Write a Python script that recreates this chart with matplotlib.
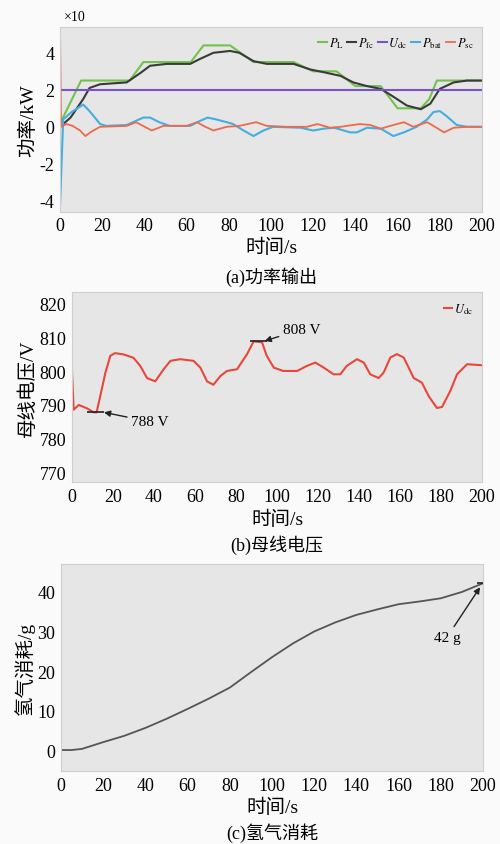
import matplotlib
matplotlib.use('Agg')
import matplotlib.pyplot as plt

plt.rcParams['font.family'] = ['Liberation Serif', 'Noto Sans CJK SC']
plt.rcParams['mathtext.fontset'] = 'stix'
plt.rcParams['axes.unicode_minus'] = False

# (a) power output, units of x10 kW
t_load = [0, 1, 10, 33, 39.5, 62, 68, 80.6, 91.7, 110.7, 120, 131, 140, 152, 160, 171, 175, 178.6, 200]
p_load = [0.2, 0.4, 2.5, 2.5, 3.5, 3.5, 4.4, 4.4, 3.5, 3.5, 3.0, 3.0, 2.2, 2.2, 1.0, 1.0, 1.5, 2.5, 2.5]

t_fc = [0, 5, 11, 14, 19, 31.6, 38, 42.7, 50.6, 61.7, 66, 72.7, 80.6, 85, 91.7, 98, 110.7, 118.6, 125,
        133, 139, 145.5, 152, 157, 164.4, 171, 175.5, 180, 186.6, 193, 200]
p_fc = [0, 0.5, 1.5, 2.1, 2.3, 2.4, 2.9, 3.3, 3.4, 3.4, 3.65, 4.0, 4.1, 4.0, 3.55, 3.4, 3.4, 3.1, 2.95,
        2.75, 2.4, 2.2, 2.05, 1.7, 1.15, 0.95, 1.25, 2.05, 2.4, 2.5, 2.5]

t_udc_ref = [0, 200]
u_dc_ref = [2.0, 2.0]

t_bat = [0, 1.5, 5.5, 11, 14, 19, 22, 31.6, 39.5, 42.7, 47, 52, 61.7, 66, 70, 74, 79, 82, 87, 91.7, 96.4,
         101, 114, 120, 125, 130, 137.5, 140.7, 145.5, 152, 158, 163, 169, 174, 177, 180, 183, 188, 193, 200]
p_bat = [-4.3, 0.4, 0.8, 1.2, 0.85, 0.15, 0.05, 0.1, 0.5, 0.5, 0.25, 0.05, 0.05, 0.3, 0.5, 0.4, 0.25, 0.15,
         -0.2, -0.5, -0.2, 0, -0.05, -0.2, -0.1, -0.05, -0.3, -0.3, -0.05, -0.1, -0.5, -0.3, 0, 0.4, 0.8,
         0.85, 0.6, 0.1, 0, 0]

t_sc = [0, 0.5, 3, 6, 9.5, 12, 15, 19, 31.6, 36, 41, 43.5, 49, 60, 65, 68, 72.7, 79, 85, 93, 98, 107.5,
        117, 122, 128, 133, 142, 147, 152, 156.5, 163, 167.5, 174, 177, 182, 186.6, 193, 200]
p_sc = [5.4, 0, 0.15, 0.05, -0.2, -0.5, -0.25, 0, 0.05, 0.25, -0.05, -0.2, 0.05, 0.05, 0.25, 0.05, -0.2,
        0, 0.05, 0.25, 0.05, 0, 0, 0.15, -0.05, 0, 0.15, 0.1, -0.1, 0.05, 0.25, 0, 0.25, 0.05, -0.3, -0.05, 0, 0]

# (b) bus voltage
t_bus = [0, 0.8, 3.3, 7.3, 10.6, 12, 13.8, 16.3, 18.7, 21, 25.2, 30, 33.3, 36.6, 40.6, 44.7, 48, 52.8, 59.3,
         62.6, 65.9, 69, 72.4, 75.6, 80.5, 85.4, 88.6, 92.7, 95, 98.4, 103, 109.8, 114.6, 118.7, 122.8, 127.6,
         130.9, 134, 139, 142.3, 145.5, 149.6, 152, 155.3, 158.5, 161.8, 166.7, 170.7, 174, 178, 180.5, 184.5,
         187.8, 192.7, 200]
u_bus = [800, 788.6, 790, 789, 787.8, 787.8, 792.7, 799.6, 804.6, 805.4, 805, 804, 801.6, 798, 797, 800.6,
         803.1, 803.6, 803.1, 801.1, 797, 796, 798.6, 800.1, 800.6, 805.1, 808.9, 808.6, 804.6, 801.1, 800.1,
         800.1, 801.6, 802.6, 801.1, 799.1, 799.1, 801.6, 803.6, 802.6, 799.1, 798, 799.6, 804.1, 805.1, 804.1,
         798, 796.6, 792.6, 789.1, 789.4, 794.1, 799.1, 802.1, 801.8]

# (c) hydrogen consumption
t_h2 = [0, 5, 10, 20, 30, 40, 50, 60, 70, 80, 90, 100, 110, 120, 130, 140, 150, 160, 170, 180, 190, 200]
m_h2 = [0, 0, 0.3, 2.0, 3.6, 5.6, 7.9, 10.4, 13.0, 15.8, 19.7, 23.5, 27.0, 30.0, 32.3, 34.2, 35.6, 36.9,
        37.6, 38.4, 40.0, 42.2]

xticks = list(range(0, 201, 20))

axbg = '#e6e6e6'
edge = '#cfcfcf'

fig = plt.figure(figsize=(5, 8.45), dpi=100)
fig.patch.set_facecolor('#fafafa')


def style(ax):
    ax.set_facecolor(axbg)
    for s in ax.spines.values():
        s.set_color(edge)
    ax.set_xlim(0, 200)
    ax.set_xticks(xticks)
    ax.tick_params(length=0, pad=4, labelsize=13)


arrow = dict(arrowstyle='-|>', color='#222222', lw=1, shrinkA=1, shrinkB=0, mutation_scale=9)

# ---- (a)
ax1 = fig.add_axes([0.12, 0.748, 0.844, 0.219])
style(ax1)
ax1.plot(t_load, p_load, color='#72c24c', lw=1.5, label='$P_\\mathrm{L}$')
ax1.plot(t_fc, p_fc, color='#3a3a3a', lw=1.5, label='$P_\\mathrm{fc}$')
ax1.plot(t_udc_ref, u_dc_ref, color='#7a52c7', lw=1.5, label='$U_\\mathrm{dc}$')
ax1.plot(t_bat, p_bat, color='#45aee0', lw=1.5, label='$P_\\mathrm{bat}$')
ax1.plot(t_sc, p_sc, color='#ec6a4e', lw=1.3, label='$P_\\mathrm{sc}$')
ax1.set_ylim(-4.6, 5.4)
ax1.set_yticks([-4, -2, 0, 2, 4])
ax1.set_ylabel('功率/kW', fontsize=14, labelpad=2)
ax1.text(0.01, 1.02, '×10', transform=ax1.transAxes, fontsize=10, va='bottom')
ax1.legend(loc='upper right', ncol=5, fontsize=9, frameon=False, handlelength=0.7,
           handletextpad=0.15, columnspacing=0.3, borderaxespad=0.3)
fig.text(0.542, 1 - 248 / 845, '时间/s', ha='center', va='center', fontsize=14)
fig.text(0.542, 1 - 277 / 845, '(a)功率输出', ha='center', va='center', fontsize=13)

# ---- (b)
ax2 = fig.add_axes([0.144, 0.428, 0.82, 0.225])
style(ax2)
ax2.plot(t_bus, u_bus, color='#e8473a', lw=1.5, label='$U_\\mathrm{dc}$')
ax2.set_ylim(767, 823.5)
ax2.set_yticks([770, 780, 790, 800, 810, 820])
ax2.set_ylabel('母线电压/V', fontsize=14, labelpad=2)
ax2.legend(loc='upper right', fontsize=9, frameon=False, handlelength=0.7,
           handletextpad=0.15, borderaxespad=0.3)
ax2.hlines(808.9, 87, 95, color='#222222', lw=1.2)
ax2.annotate('808 V', xy=(94, 809), xytext=(112, 812.5), fontsize=11, va='center', ha='center',
             arrowprops=arrow)
ax2.hlines(787.8, 7.5, 15.6, color='#222222', lw=1.2)
ax2.annotate('788 V', xy=(15.6, 787.8), xytext=(38, 785), fontsize=11, va='center', ha='center',
             arrowprops=arrow)
fig.text(0.554, 1 - 520 / 845, '时间/s', ha='center', va='center', fontsize=14)
fig.text(0.554, 1 - 545 / 845, '(b)母线电压', ha='center', va='center', fontsize=13)

# ---- (c)
ax3 = fig.add_axes([0.122, 0.0864, 0.844, 0.2446])
style(ax3)
ax3.plot(t_h2, m_h2, color='#555555', lw=1.3)
ax3.set_ylim(-5.3, 47)
ax3.set_yticks([0, 10, 20, 30, 40])
ax3.set_ylabel('氢气消耗/g', fontsize=14, labelpad=2)
ax3.hlines(42.2, 197, 200, color='#222222', lw=1.2)
ax3.annotate('42 g', xy=(198.6, 41.2), xytext=(183, 28.6), fontsize=11, va='center', ha='center',
             arrowprops=arrow)
fig.text(0.544, 1 - 808 / 845, '时间/s', ha='center', va='center', fontsize=14)
fig.text(0.544, 1 - 833 / 845, '(c)氢气消耗', ha='center', va='center', fontsize=13)

plt.savefig('out.png', dpi=100, facecolor=fig.get_facecolor())
